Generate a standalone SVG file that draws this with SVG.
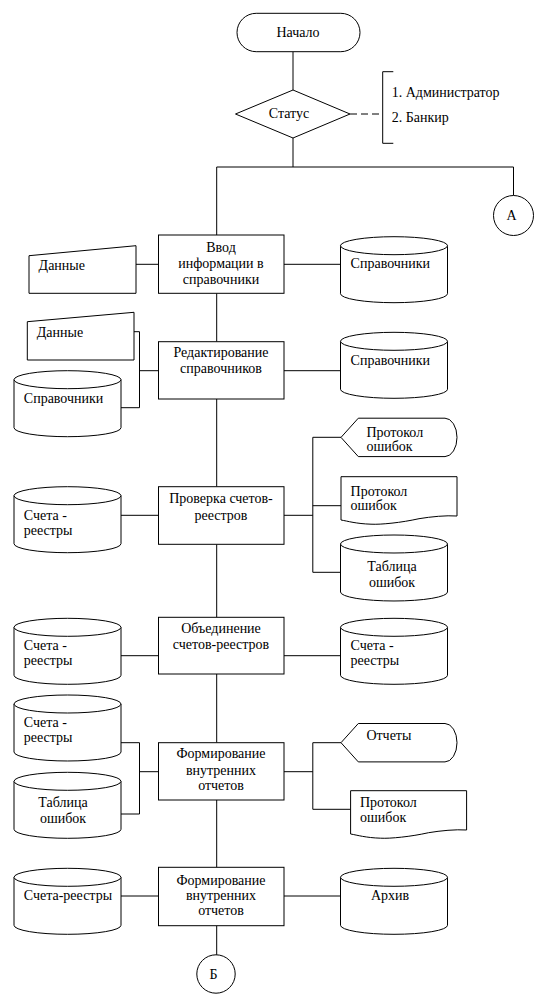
<svg xmlns="http://www.w3.org/2000/svg" xmlns:xlink="http://www.w3.org/1999/xlink" width="549" height="1004" viewBox="0 0 549 1004" font-family="'Liberation Serif', 'Times New Roman', 'DejaVu Serif', serif" font-size="14">
<style>
.s{fill:#fff;stroke:#000;stroke-width:1}
.c{fill:none;stroke:#000;stroke-width:1}
.d{fill:none;stroke:#000;stroke-width:1;stroke-dasharray:7,4}
text{font-family:'Liberation Serif','Times New Roman','DejaVu Serif',serif;font-size:14px;fill:#000}
.m{text-anchor:middle}
</style>
<defs>
<g id="cyl">
<path class="s" d="M0,9 V57 A53.5 9 0 0 0 107,57 V9 Z"/>
<ellipse class="s" cx="53.5" cy="9" rx="53.5" ry="9"/>
</g>
<path id="disp" class="s" d="M0,19.2 L17.3,0 H104 A12 19.2 0 0 1 104,38.4 H17.3 Z"/>
<path id="doc" class="s" d="M0,0 H116 V39.3 C105,38.5 90,40 78,42 C60,46 40,48 30,47.5 C15,47 7,44.5 0,43.3 Z"/>
</defs>

<g id="connectors">
<line class="c" x1="293" y1="51.7" x2="293" y2="90"/>
<line class="c" x1="293" y1="138" x2="293" y2="167"/>
<line class="d" x1="350" y1="114" x2="382.7" y2="114"/>
<polyline class="c" points="393.3,71.7 382.7,71.7 382.7,143.3 393.3,143.3"/>
<polyline class="c" points="216.7,235 216.7,167 513.5,167 513.5,195.5"/>
<line class="c" x1="136" y1="264.3" x2="158.5" y2="264.3"/>
<line class="c" x1="284" y1="264.3" x2="341" y2="264.3"/>
<line class="c" x1="216.7" y1="293.3" x2="216.7" y2="341.7"/>
<polyline class="c" points="134,331.7 139.5,331.7 139.5,407.7 121,407.7"/>
<line class="c" x1="139.5" y1="370.7" x2="158.5" y2="370.7"/>
<line class="c" x1="284" y1="370.7" x2="341" y2="370.7"/>
<line class="c" x1="216.7" y1="399" x2="216.7" y2="486.7"/>
<line class="c" x1="121" y1="515.3" x2="158.5" y2="515.3"/>
<line class="c" x1="284" y1="515.3" x2="312.8" y2="515.3"/>
<polyline class="c" points="341,437.3 312.8,437.3 312.8,572.3 341,572.3"/>
<line class="c" x1="312.8" y1="505.7" x2="341" y2="505.7"/>
<line class="c" x1="216.7" y1="544.3" x2="216.7" y2="617.3"/>
<line class="c" x1="121" y1="655.7" x2="158.5" y2="655.7"/>
<line class="c" x1="284" y1="655.7" x2="341" y2="655.7"/>
<line class="c" x1="216.7" y1="674" x2="216.7" y2="742.7"/>
<polyline class="c" points="121,742.7 139.5,742.7 139.5,814 121,814"/>
<line class="c" x1="139.5" y1="771.7" x2="158.5" y2="771.7"/>
<line class="c" x1="284" y1="771.7" x2="312.8" y2="771.7"/>
<polyline class="c" points="341,742.7 312.8,742.7 312.8,809.3 350.6,809.3"/>
<line class="c" x1="216.7" y1="800" x2="216.7" y2="867.3"/>
<line class="c" x1="121" y1="896" x2="158.5" y2="896"/>
<line class="c" x1="284" y1="896" x2="341" y2="896"/>
<line class="c" x1="216.7" y1="925.7" x2="216.7" y2="955"/>
</g>

<g id="start">
<rect class="s" x="237" y="13.3" width="123" height="38.4" rx="19.2"/>
<text class="m" x="298" y="37">Начало</text>
</g>
<g id="status">
<polygon class="s" points="293,90 350,114 293,138 235.5,114"/>
<text class="m" x="289" y="118">Статус</text>
</g>
<g id="status-note">
<text x="391.7" y="97">1. Администратор</text>
<text x="391.7" y="121.5">2. Банкир</text>
</g>
<g id="conn-a">
<circle class="s" cx="513.5" cy="215.5" r="20"/>
<text class="m" x="511.5" y="220">А</text>
</g>

<g id="data1">
<polygon class="s" points="29,255.7 136,245.7 136,293.3 29,293.3"/>
<text x="38.6" y="270">Данные</text>
</g>
<g id="proc1">
<rect class="s" x="158.5" y="235" width="125.5" height="58.3"/>
<text class="m" x="221" y="252.3">Ввод</text>
<text class="m" x="221" y="268.3">информации в</text>
<text class="m" x="221" y="284.3">справочники</text>
</g>
<g id="db1">
<use xlink:href="#cyl" href="#cyl" transform="translate(340.5,236.7)"/>
<text x="350.6" y="268.3">Справочники</text>
</g>

<g id="data2">
<polygon class="s" points="27.3,321.7 134,312.3 134,360 27.3,360"/>
<text x="36.8" y="336.7">Данные</text>
</g>
<g id="db2">
<use xlink:href="#cyl" href="#cyl" transform="translate(14,370.7)"/>
<text x="23.8" y="403.3">Справочники</text>
</g>
<g id="proc2">
<rect class="s" x="158.5" y="341.7" width="125.5" height="57.3"/>
<text class="m" x="221" y="356.7">Редактирование</text>
<text class="m" x="221" y="373.3">справочников</text>
</g>
<g id="db3">
<use xlink:href="#cyl" href="#cyl" transform="translate(340.5,332.3)"/>
<text x="350.6" y="365">Справочники</text>
</g>

<g id="db4">
<use xlink:href="#cyl" href="#cyl" transform="translate(14,486.7)"/>
<text x="23.8" y="520">Счета -</text>
<text x="23.8" y="534.5">реестры</text>
</g>
<g id="proc3">
<rect class="s" x="158.5" y="486.7" width="125.5" height="57.6"/>
<text class="m" x="221" y="503.3">Проверка счетов-</text>
<text class="m" x="221" y="520">реестров</text>
</g>
<g id="disp1">
<use xlink:href="#disp" href="#disp" transform="translate(341,418.2)"/>
<text x="366.4" y="436.5">Протокол</text>
<text x="366.4" y="451">ошибок</text>
</g>
<g id="doc1">
<use xlink:href="#doc" href="#doc" transform="translate(341,476.7)"/>
<text x="350.6" y="495.5">Протокол</text>
<text x="350.6" y="510">ошибок</text>
</g>
<g id="db5">
<use xlink:href="#cyl" href="#cyl" transform="translate(340.5,535)"/>
<text class="m" x="392" y="571">Таблица</text>
<text class="m" x="392" y="587.3">ошибок</text>
</g>

<g id="db6">
<use xlink:href="#cyl" href="#cyl" transform="translate(14,618.3)"/>
<text x="23.8" y="650">Счета -</text>
<text x="23.8" y="665">реестры</text>
</g>
<g id="proc4">
<rect class="s" x="158.5" y="617.3" width="125.5" height="56.7"/>
<text class="m" x="221" y="633.3">Объединение</text>
<text class="m" x="221" y="649.3">счетов-реестров</text>
</g>
<g id="db7">
<use xlink:href="#cyl" href="#cyl" transform="translate(340.5,618.3)"/>
<text x="350.6" y="650">Счета -</text>
<text x="350.6" y="665">реестры</text>
</g>

<g id="db8">
<use xlink:href="#cyl" href="#cyl" transform="translate(14,695)"/>
<text x="23.8" y="726.7">Счета -</text>
<text x="23.8" y="741.7">реестры</text>
</g>
<g id="db9">
<use xlink:href="#cyl" href="#cyl" transform="translate(14,772.3)"/>
<text class="m" x="63" y="806.7">Таблица</text>
<text class="m" x="63" y="823.3">ошибок</text>
</g>
<g id="proc5">
<rect class="s" x="158.5" y="742.7" width="125.5" height="57.3"/>
<text class="m" x="221" y="758.3">Формирование</text>
<text class="m" x="221" y="775">внутренних</text>
<text class="m" x="221" y="790">отчетов</text>
</g>
<g id="disp2">
<use xlink:href="#disp" href="#disp" transform="translate(341,723.5)"/>
<text x="366.4" y="740">Отчеты</text>
</g>
<g id="doc2">
<use xlink:href="#doc" href="#doc" transform="translate(350.6,790.7)"/>
<text x="360" y="806.7">Протокол</text>
<text x="360" y="821.7">ошибок</text>
</g>

<g id="db10">
<use xlink:href="#cyl" href="#cyl" transform="translate(14,868.3)"/>
<text x="23.8" y="900">Счета-реестры</text>
</g>
<g id="proc6">
<rect class="s" x="158.5" y="867.3" width="125.5" height="58.4"/>
<text class="m" x="221" y="885">Формирование</text>
<text class="m" x="221" y="900">внутренних</text>
<text class="m" x="221" y="915">отчетов</text>
</g>
<g id="db11">
<use xlink:href="#cyl" href="#cyl" transform="translate(340.5,868.3)"/>
<text class="m" x="390" y="900">Архив</text>
</g>
<g id="conn-b">
<circle class="s" cx="216" cy="974" r="19.2"/>
<text class="m" x="213.5" y="978.5">Б</text>
</g>
</svg>
